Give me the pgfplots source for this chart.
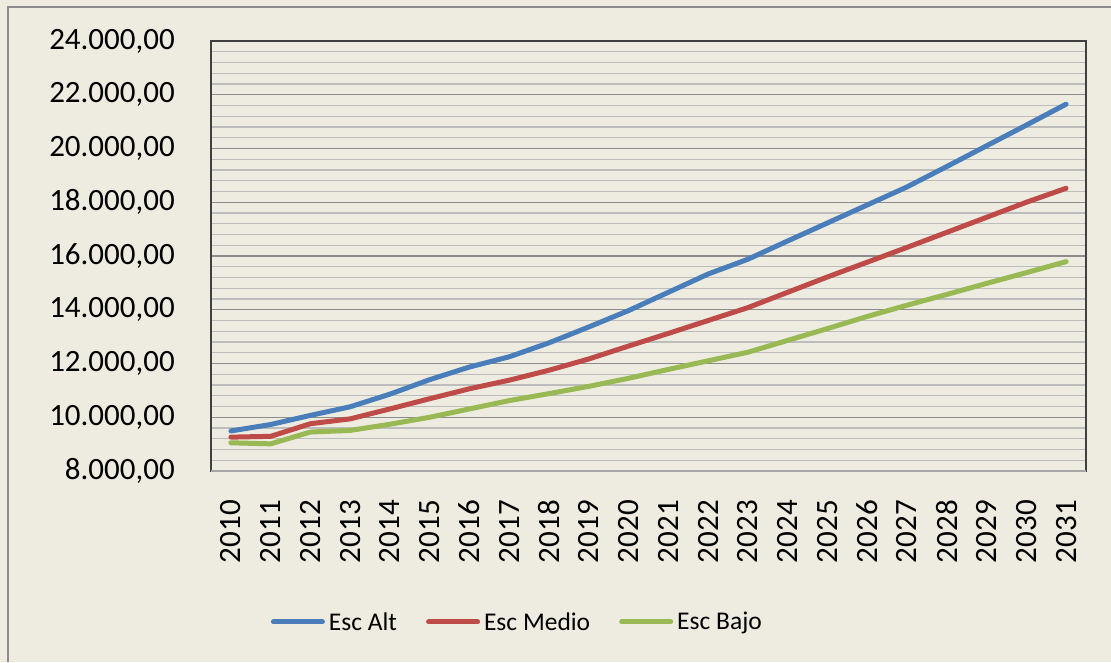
\documentclass[border=0pt]{standalone}
\usepackage{pgfplots}
\pgfplotsset{compat=1.18}
\usepackage{fontspec}
\setmainfont{Carlito}
\definecolor{fondo}{HTML}{EEECE1}
\definecolor{altc}{HTML}{4A7EBB}
\definecolor{medc}{HTML}{BE4B48}
\definecolor{bajc}{HTML}{98B954}

% escenarios, valores
\pgfplotstableread{
year alt medio bajo
2010 9490 9260 9050
2011 9730 9290 9010
2012 10070 9760 9450
2013 10390 9940 9510
2014 10860 10310 9740
2015 11400 10690 10000
2016 11870 11060 10310
2017 12250 11380 10620
2018 12770 11750 10880
2019 13360 12170 11150
2020 13970 12650 11450
2021 14650 13120 11780
2022 15330 13600 12100
2023 15880 14080 12420
2024 16560 14650 12860
2025 17230 15220 13300
2026 17900 15770 13750
2027 18570 16320 14170
2028 19330 16880 14570
2029 20100 17440 14980
2030 20870 18000 15380
2031 21650 18520 15790
}\datos

\begin{document}
\begin{tikzpicture}
\fill[fondo] (-211pt,-191pt) rectangle (900pt,471pt);
\path[use as bounding box] (-211pt,-191pt) rectangle (900pt,471pt);
\draw[black!45, line width=2pt] (-203pt,-191pt) -- (-203pt,464pt) -- (900pt,464pt);
\begin{axis}[
  scale only axis, width=875pt, height=430pt,
  xmin=2009.5, xmax=2031.5, ymin=8000, ymax=24000,
  xtick={2010,2011,...,2031}, ytick={8000,10000,...,24000},
  minor y tick num=4,
  ymajorgrids, yminorgrids,
  major grid style={draw=black!45, line width=1.4pt},
  minor grid style={draw=black!26, line width=1.4pt},
  major tick length=0pt, minor tick length=0pt,
  axis line style={draw=black!75, line width=2pt},
  tick label style={font=\fontsize{31}{36}\selectfont},
  /pgf/number format/assume math mode=true,
  xticklabel style={rotate=90, anchor=east, inner sep=0pt,
    /pgf/number format/1000 sep={}},
  xticklabel shift=29pt,
  yticklabel style={anchor=east, inner sep=0pt,
    /pgf/number format/.cd, fixed, fixed zerofill, precision=2,
    use comma, 1000 sep={.}},
  yticklabel shift=36pt,
  scaled y ticks=false,
  every axis plot/.append style={line width=5pt, line join=round, line cap=round},
  legend columns=3,
  legend image code/.code={\draw[#1] (2.5pt,0pt) -- (51.5pt,0pt);},
  legend style={at={(0.349,-0.351)}, anchor=center, draw=none, fill=none,
    font=\fontsize{25.5}{30}\selectfont, nodes={inner sep=0pt},
    /tikz/every odd column/.append style={column sep=4pt},
    /tikz/every even column/.append style={column sep=29pt}},
]
\addplot[altc] table[x=year, y=alt] {\datos};
\addplot[medc] table[x=year, y=medio] {\datos};
\addplot[bajc] table[x=year, y=bajo] {\datos};
\draw[black!35, line width=2pt] (rel axis cs:0,0) -- (rel axis cs:1,0);
\legend{Esc Alt, Esc Medio, Esc Bajo}
\end{axis}
\end{tikzpicture}
\end{document}
